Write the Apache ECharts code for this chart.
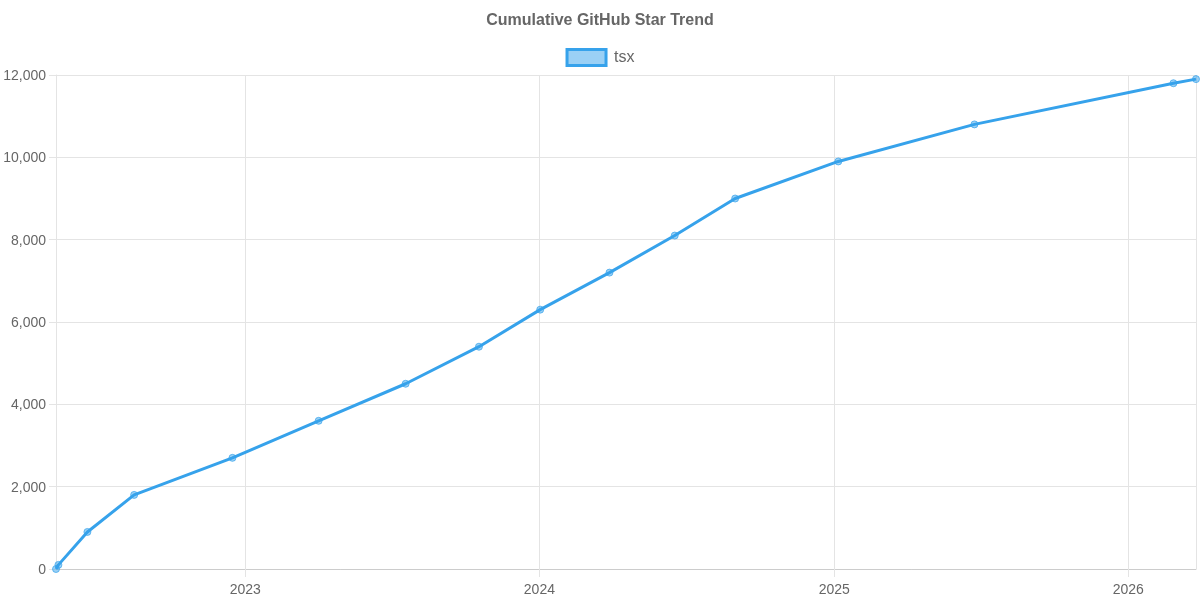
<!DOCTYPE html>
<html>
<head>
<meta charset="utf-8">
<style>
	html, body { margin: 0; padding: 0; background: #fff; }
	#chart { width: 1200px; height: 600px; }
</style>
<script src="https://cdn.jsdelivr.net/npm/echarts@6/dist/echarts.min.js"></script>
</head>
<body>
<div id="chart"></div>
<script>
	'use strict'
	var dates = ['2022-05-11', '2022-05-14', '2022-06-19', '2022-08-16', '2022-12-16', '2023-04-02', '2023-07-19', '2023-10-18', '2024-01-02', '2024-03-28', '2024-06-17', '2024-08-31', '2025-01-06', '2025-06-24', '2026-02-26', '2026-03-26'];
	var stars = [0, 100, 900, 1800, 2700, 3600, 4500, 5400, 6300, 7200, 8100, 9000, 9900, 10800, 11800, 11900];
	var seriesName = 'tsx';
	var chartTitle = 'Cumulative GitHub Star Trend';

	var textColor = '#666666';
	var gridColor = '#e4e4e4';
	var fontName = '"Liberation Sans", Arial, sans-serif';

	var chart = echarts.init(document.getElementById('chart'), null, { renderer: 'canvas' });
	var option = {
		animation: false,
		title: {
			text: chartTitle,
			left: 'center',
			top: 8,
			textStyle: { color: textColor, fontFamily: fontName, fontSize: 16, fontWeight: 'bold' }
		},
		legend: {
			top: 43,
			left: 'center',
			itemWidth: 39,
			itemHeight: 16,
			itemGap: 8,
			icon: 'rect',
			textStyle: { color: textColor, fontFamily: fontName, fontSize: 16, padding: [0, 0, 0, 3] },
			itemStyle: { color: 'rgba(54,162,235,0.5)', borderColor: '#36a2eb', borderWidth: 3 },
			lineStyle: { opacity: 0 }
		},
		grid: { left: 56, right: 4, top: 75, bottom: 31, containLabel: false },
		xAxis: {
			type: 'time',
			min: dates[0],
			max: dates[dates.length - 1],
			minInterval: 365 * 24 * 3600 * 1000,
			axisLine: { lineStyle: { color: '#cccccc' } },
			axisTick: { show: true, length: 8, lineStyle: { color: gridColor } },
			splitLine: { show: true, lineStyle: { color: gridColor } },
			minorSplitLine: { show: false },
			axisLabel: {
				color: textColor,
				fontFamily: fontName,
				fontSize: 14,
				margin: 14,
				hideOverlap: false,
				showMinLabel: false,
				showMaxLabel: false,
				formatter: function (value) {
					return String(new Date(value).getFullYear());
				}
			}
		},
		yAxis: {
			type: 'value',
			min: 0,
			max: 12000,
			interval: 2000,
			axisLine: { show: true, lineStyle: { color: gridColor } },
			axisTick: { show: true, length: 7, lineStyle: { color: gridColor } },
			splitLine: { show: true, lineStyle: { color: gridColor } },
			axisLabel: {
				color: textColor,
				fontFamily: fontName,
				fontSize: 14,
				margin: 10,
				rich: {
					// nudges the number down a pixel to sit on its gridline
					num: { color: textColor, fontFamily: fontName, fontSize: 14, padding: [2, 0, 0, 0] }
				},
				formatter: function (value) {
					return '{num|' + value.toLocaleString('en-US') + '}';
				}
			}
		},
		series: [{
			name: seriesName,
			type: 'line',
			data: dates.map(function (d, i) { return [d, stars[i]]; }),
			showSymbol: true,
			showAllSymbol: true,
			symbol: 'circle',
			symbolSize: 7,
			clip: false,
			lineStyle: { color: '#36a2eb', width: 3 },
			itemStyle: { color: 'rgba(54,162,235,0.5)', borderColor: 'rgba(54,162,235,0.7)', borderWidth: 1 }
		}]
	};
	chart.setOption(option);
</script>
</body>
</html>
